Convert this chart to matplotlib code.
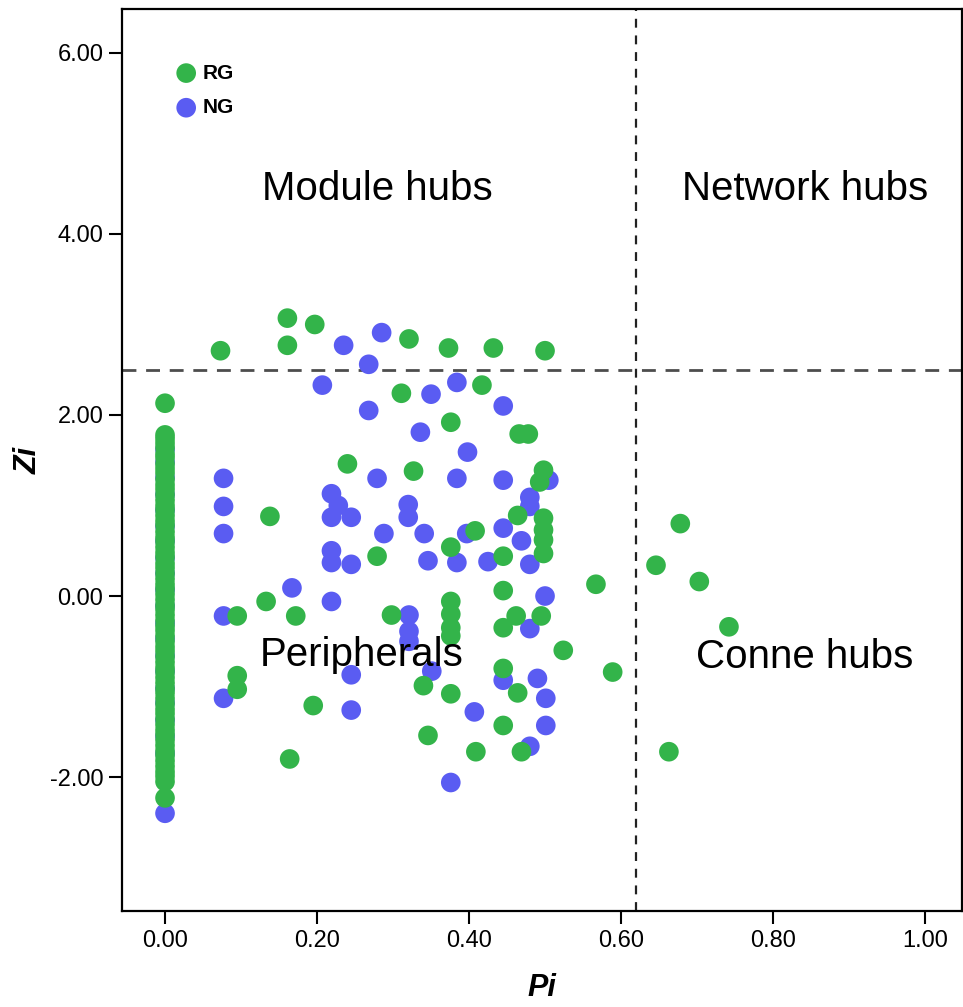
import numpy as np
import matplotlib
matplotlib.use("Agg")
import matplotlib.pyplot as plt

plt.rcParams['font.family'] = ['Liberation Sans', 'DejaVu Sans']

# RG (green) points off the Pi = 0 column
rg_pi = [0.073, 0.161, 0.161, 0.197, 0.321, 0.373, 0.432, 0.500, 0.311, 0.417,
         0.376, 0.466, 0.478, 0.240, 0.327, 0.498, 0.493, 0.138, 0.464, 0.498,
         0.498, 0.498, 0.498, 0.408, 0.376, 0.279, 0.445, 0.445, 0.133, 0.095,
         0.172, 0.298, 0.376, 0.376, 0.376, 0.376, 0.462, 0.495, 0.445, 0.524,
         0.095, 0.095, 0.340, 0.376, 0.445, 0.464, 0.195, 0.445, 0.346, 0.409,
         0.469, 0.164, 0.567, 0.646, 0.678, 0.703, 0.742, 0.589, 0.663, 0.000]
rg_zi = [2.71, 3.07, 2.77, 3.00, 2.84, 2.74, 2.74, 2.71, 2.24, 2.33,
         1.92, 1.79, 1.79, 1.46, 1.38, 1.39, 1.26, 0.88, 0.89, 0.86,
         0.73, 0.62, 0.47, 0.72, 0.54, 0.44, 0.44, 0.06, -0.06, -0.22,
         -0.22, -0.21, -0.06, -0.20, -0.35, -0.44, -0.22, -0.22, -0.35, -0.60,
         -0.88, -1.03, -0.99, -1.08, -0.80, -1.07, -1.21, -1.43, -1.54, -1.72,
         -1.72, -1.80, 0.13, 0.34, 0.80, 0.16, -0.34, -0.84, -1.72, 2.13]

# RG nodes with Pi = 0
rg_zero_zi = [1.78, 1.74, 1.69, 1.64, 1.57, 1.53, 1.46, 1.41, 1.36, 1.29, 1.23, 1.18,
              1.12, 1.06, 1.00, 0.95, 0.89, 0.83, 0.78, 0.71, 0.65, 0.60, 0.54, 0.48,
              0.43, 0.36, 0.31, 0.25, 0.19, 0.13, 0.08, 0.02, -0.04, -0.10, -0.15, -0.21,
              -0.27, -0.33, -0.38, -0.44, -0.50, -0.56, -0.61, -0.67, -0.73, -0.79,
              -0.84, -0.90, -0.96, -1.02, -1.07, -1.13, -1.19, -1.25, -1.30, -1.36,
              -1.42, -1.48, -1.53, -1.59, -1.65, -1.71, -1.76, -1.82, -1.88, -1.94,
              -1.99, -2.05, -2.23]

# NG (blue) points off the Pi = 0 column
ng_pi = [0.235, 0.285, 0.268, 0.207, 0.350, 0.384, 0.268, 0.445, 0.336, 0.398,
         0.077, 0.279, 0.384, 0.445, 0.505, 0.077, 0.219, 0.228, 0.219, 0.245,
         0.320, 0.320, 0.480, 0.480, 0.077, 0.288, 0.341, 0.397, 0.445, 0.469,
         0.219, 0.219, 0.245, 0.346, 0.384, 0.425, 0.480, 0.167, 0.219, 0.500,
         0.077, 0.321, 0.321, 0.321, 0.480, 0.245, 0.351, 0.077, 0.445, 0.490,
         0.501, 0.245, 0.407, 0.501, 0.480, 0.376]
ng_zi = [2.77, 2.91, 2.56, 2.33, 2.23, 2.36, 2.05, 2.10, 1.81, 1.59,
         1.30, 1.30, 1.30, 1.28, 1.28, 0.99, 1.13, 1.00, 0.87, 0.87,
         1.01, 0.87, 1.09, 0.99, 0.69, 0.69, 0.69, 0.69, 0.75, 0.61,
         0.50, 0.37, 0.35, 0.39, 0.37, 0.38, 0.35, 0.09, -0.06, 0.00,
         -0.22, -0.21, -0.39, -0.50, -0.36, -0.87, -0.83, -1.13, -0.93, -0.91,
         -1.13, -1.26, -1.28, -1.43, -1.66, -2.06]

# NG nodes with Pi = 0
ng_zero_zi = [1.62, 1.48, 1.31, 1.12, 0.95, 0.77, 0.61, 0.42, 0.25, 0.07,
              -0.11, -0.30, -0.47, -0.66, -0.83, -1.02, -1.18, -1.37, -1.55, -1.74,
              -2.40]

green = '#33b44a'
blue = '#5a5cf2'

fig = plt.figure(figsize=(9.63, 10.07), dpi=100)
ax = fig.add_axes([0.1267, 0.0953, 0.8723, 0.8953])

ms = 200
ax.scatter(ng_pi + [0.0] * len(ng_zero_zi), ng_zi + ng_zero_zi, s=ms, c=blue,
           edgecolors='none', label='NG', zorder=2)
ax.scatter(rg_pi + [0.0] * len(rg_zero_zi), rg_zi + rg_zero_zi, s=ms, c=green,
           edgecolors='none', label='RG', zorder=3)

ax.axhline(2.5, color='#4d4d4d', lw=2, dashes=(5, 3.5), zorder=1)
ax.axvline(0.62, color='#222222', lw=1.6, dashes=(4, 3.5), zorder=1)

ax.text(0.28, 4.5, 'Module hubs', fontsize=29, ha='center', va='center')
ax.text(0.842, 4.5, 'Network hubs', fontsize=29, ha='center', va='center')
ax.text(0.259, -0.65, 'Peripherals', fontsize=29, ha='center', va='center', zorder=4)
ax.text(0.842, -0.67, 'Conne hubs', fontsize=29, ha='center', va='center', zorder=4)

ax.set_xlim(-0.0566, 1.0487)
ax.set_ylim(-3.48, 6.48)
ax.set_xticks([0, 0.2, 0.4, 0.6, 0.8, 1.0])
ax.set_yticks([-2, 0, 2, 4, 6])
ax.set_xticklabels(['%.2f' % v for v in [0, 0.2, 0.4, 0.6, 0.8, 1.0]])
ax.set_yticklabels(['%.2f' % v for v in [-2, 0, 2, 4, 6]])
ax.tick_params(direction='out', length=9.5, width=1.5, labelsize=17, pad=4)
for sp in ax.spines.values():
    sp.set_linewidth(1.6)

ax.set_xlabel('Pi', fontsize=22, fontweight='bold', style='italic', labelpad=15)
ax.set_ylabel('Zi', fontsize=22, fontweight='bold', style='italic', labelpad=4)

handles, labels = ax.get_legend_handles_labels()
ax.legend(handles[::-1], labels[::-1], loc='upper left', bbox_to_anchor=(0.064, 0.940),
          frameon=False, prop={'weight': 'bold', 'size': 15}, handlelength=1.0,
          handletextpad=0.3, labelspacing=0.75, borderaxespad=0, borderpad=0,
          scatterpoints=1)

fig.savefig('out.png', dpi=100)
